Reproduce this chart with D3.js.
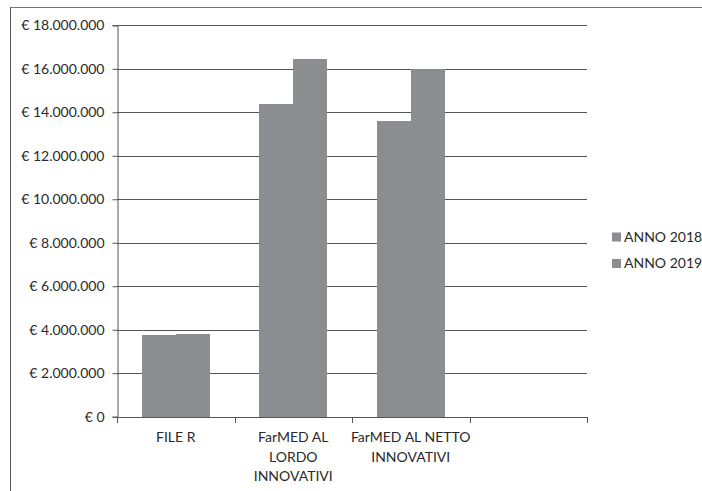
<!DOCTYPE html>
<html>
<head>
<meta charset="utf-8">
<script src="https://cdn.jsdelivr.net/npm/d3@7"></script>
<style>
  html, body { margin: 0; padding: 0; background: #fff; }
  svg { display: block; }
  text { font-family: Lato, "Open Sans", sans-serif; fill: #2a2a2a; }
</style>
</head>
<body>
<svg id="chart" width="702" height="491"></svg>
<script>
// Categories on the x axis (the last slot is left empty)
const categories = ["FILE R", "FarMED AL LORDO INNOVATIVI", "FarMED AL NETTO INNOVATIVI", ""];
// Wrapped tick labels, one array of lines per category
const tickLabels = [["FILE R"], ["FarMED AL", "LORDO", "INNOVATIVI"], ["FarMED AL NETTO", "INNOVATIVI"], [""]];
// Series
const seriesNames = ["ANNO 2018", "ANNO 2019"];
const values2018 = [3780000, 14390000, 13620000];
const values2019 = [3820000, 16470000, 16000000];
// Y axis ticks
const yTicks = [0, 2000000, 4000000, 6000000, 8000000, 10000000, 12000000, 14000000, 16000000, 18000000];

const svg = d3.select("#chart");
const W = 702, H = 491;
const plot = { left: 117, right: 587, top: 25.3, bottom: 416.7 };
const barColor = "#8b8d90";
const gridColor = "#555";

// outer frame
svg.append("line").attr("x1", 11).attr("x2", W).attr("y1", 7.5).attr("y2", 7.5)
  .attr("stroke", "#777").attr("stroke-width", 1);
svg.append("line").attr("x1", 10.5).attr("x2", 10.5).attr("y1", 7).attr("y2", H)
  .attr("stroke", "#555").attr("stroke-width", 1);

const x0 = d3.scaleBand().domain(categories).range([plot.left, plot.right]).padding(0);
const x1 = d3.scaleBand().domain(seriesNames).range([0, x0.bandwidth()])
  .paddingInner(0).paddingOuter(0.73);
const y = d3.scaleLinear().domain([0, 18000000]).range([plot.bottom, plot.top]);

const fmt = v => "€ " + d3.format(",")(v).replace(/,/g, ".");

// gridlines
svg.append("g").selectAll("line").data(yTicks.filter(d => d > 0)).join("line")
  .attr("x1", plot.left).attr("x2", plot.right)
  .attr("y1", d => Math.round(y(d)) + 0.5).attr("y2", d => Math.round(y(d)) + 0.5)
  .attr("stroke", gridColor).attr("stroke-width", 1);

// y axis
const yAxis = svg.append("g").attr("transform", `translate(${plot.left + 0.5},0)`)
  .call(d3.axisLeft(y).tickValues(yTicks).tickFormat(fmt).tickSize(5).tickPadding(8));
yAxis.select(".domain").attr("stroke", gridColor);
yAxis.selectAll(".tick line").attr("stroke", gridColor);
yAxis.selectAll(".tick text").attr("font-size", 14).attr("fill", "#2a2a2a")
  .attr("font-family", "Lato, sans-serif");

// bars (pixel-snapped so adjacent bars meet without a seam)
const rows = categories.map((c, i) => ({ cat: c, vals: [values2018[i], values2019[i]] }))
  .filter(r => r.vals[0] != null);
const groups = svg.append("g").attr("shape-rendering", "crispEdges").selectAll("g").data(rows).join("g");
groups.selectAll("rect").data(d => seriesNames.map((s, k) => ({ cat: d.cat, s, v: d.vals[k] }))).join("rect")
  .attr("x", d => Math.round(x0(d.cat) + x1(d.s)))
  .attr("width", d => Math.round(x0(d.cat) + x1(d.s) + x1.bandwidth()) - Math.round(x0(d.cat) + x1(d.s)))
  .attr("y", d => Math.round(y(d.v))).attr("height", d => Math.round(y(0)) - Math.round(y(d.v)) + 1)
  .attr("fill", barColor);

// x axis with ticks at category boundaries
const xg = svg.append("g");
xg.append("line").attr("x1", plot.left).attr("x2", plot.right)
  .attr("y1", Math.round(plot.bottom) + 0.5).attr("y2", Math.round(plot.bottom) + 0.5)
  .attr("stroke", gridColor);
const bounds = categories.map(c => x0(c)).concat([x0(categories[categories.length - 1]) + x0.bandwidth()]);
xg.selectAll("line.tk").data(bounds).join("line").attr("class", "tk")
  .attr("x1", d => Math.round(d) + 0.5).attr("x2", d => Math.round(d) + 0.5)
  .attr("y1", Math.round(plot.bottom)).attr("y2", Math.round(plot.bottom) + 6)
  .attr("stroke", gridColor);
categories.forEach((c, i) => {
  const t = xg.append("text").attr("text-anchor", "middle")
    .attr("font-size", 14)
    .attr("x", x0(c) + x0.bandwidth() / 2).attr("y", 442);
  tickLabels[i].forEach((line, k) => {
    t.append("tspan").attr("x", x0(c) + x0.bandwidth() / 2).attr("dy", k === 0 ? 0 : 19.5).text(line);
  });
});

// legend
const legend = svg.append("g").selectAll("g").data(seriesNames).join("g")
  .attr("transform", (d, i) => `translate(612,${237 + i * 26.5})`);
legend.append("rect").attr("x", 0).attr("y", -4.5).attr("width", 9).attr("height", 9).attr("fill", barColor);
legend.append("text").attr("x", 12).attr("y", 0).attr("dy", "0.35em").attr("font-size", 14).text(d => d);
</script>
</body>
</html>
